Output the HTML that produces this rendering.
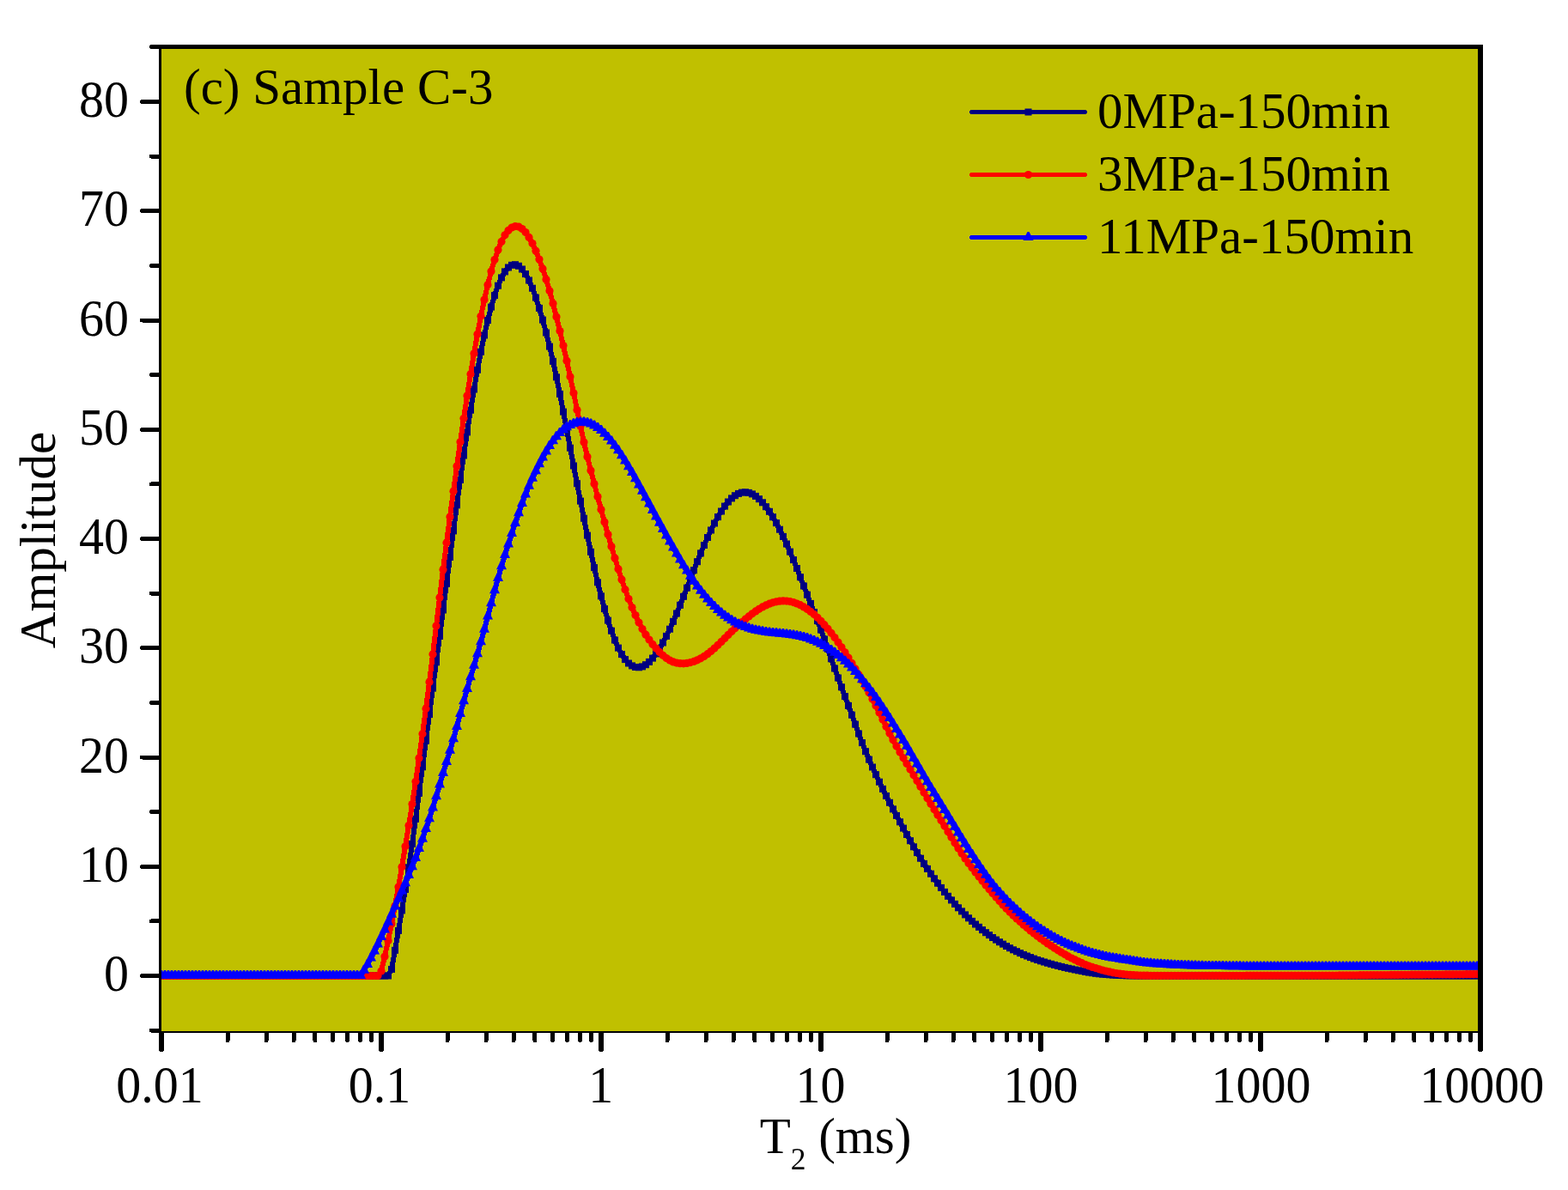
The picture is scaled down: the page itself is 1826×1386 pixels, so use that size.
<!DOCTYPE html>
<html><head><meta charset="utf-8"><title>T2 spectrum</title>
<style>
html,body{margin:0;padding:0;background:#fff;width:1826px;height:1386px;overflow:hidden}
svg{display:block}
text{font-family:"Liberation Serif","Times New Roman",serif;fill:#000}
</style></head><body>
<svg width="1826" height="1386" viewBox="0 0 1826 1386">
<defs>
<marker id="sq" markerUnits="userSpaceOnUse" markerWidth="10" markerHeight="10" refX="4" refY="4" overflow="visible"><rect x="0" y="0" width="8" height="8" fill="#000080"/></marker>
<marker id="ci" markerUnits="userSpaceOnUse" markerWidth="10" markerHeight="10" refX="4.5" refY="4.5" overflow="visible"><circle cx="4.5" cy="4.5" r="4.6" fill="#FF0000"/></marker>
<marker id="tr" markerUnits="userSpaceOnUse" markerWidth="12" markerHeight="12" refX="6" refY="6.5" overflow="visible"><path d="M5 0 H7 L12 10 H0 Z" fill="#0000FF"/></marker>
<clipPath id="pc"><rect x="188" y="57" width="1533" height="1144"/></clipPath>
</defs>

<g stroke="#000" stroke-linecap="round" shape-rendering="crispEdges">
<line x1="176.5" y1="1200.1" x2="187" y2="1200.1" stroke-width="5"/>
<line x1="165.5" y1="1136.5" x2="187" y2="1136.5" stroke-width="5"/>
<line x1="176.5" y1="1072.9" x2="187" y2="1072.9" stroke-width="5"/>
<line x1="165.5" y1="1009.2" x2="187" y2="1009.2" stroke-width="5"/>
<line x1="176.5" y1="945.6" x2="187" y2="945.6" stroke-width="5"/>
<line x1="165.5" y1="882.0" x2="187" y2="882.0" stroke-width="5"/>
<line x1="176.5" y1="818.4" x2="187" y2="818.4" stroke-width="5"/>
<line x1="165.5" y1="754.8" x2="187" y2="754.8" stroke-width="5"/>
<line x1="176.5" y1="691.1" x2="187" y2="691.1" stroke-width="5"/>
<line x1="165.5" y1="627.5" x2="187" y2="627.5" stroke-width="5"/>
<line x1="176.5" y1="563.9" x2="187" y2="563.9" stroke-width="5"/>
<line x1="165.5" y1="500.2" x2="187" y2="500.2" stroke-width="5"/>
<line x1="176.5" y1="436.6" x2="187" y2="436.6" stroke-width="5"/>
<line x1="165.5" y1="373.0" x2="187" y2="373.0" stroke-width="5"/>
<line x1="176.5" y1="309.4" x2="187" y2="309.4" stroke-width="5"/>
<line x1="165.5" y1="245.8" x2="187" y2="245.8" stroke-width="5"/>
<line x1="176.5" y1="182.1" x2="187" y2="182.1" stroke-width="5"/>
<line x1="165.5" y1="118.5" x2="187" y2="118.5" stroke-width="5"/>
<line x1="176.5" y1="54.5" x2="187" y2="54.5" stroke-width="5"/>
<line x1="188.0" y1="1200" x2="188.0" y2="1222" stroke-width="6"/>
<line x1="265.1" y1="1200" x2="265.1" y2="1211.5" stroke-width="5"/>
<line x1="310.1" y1="1200" x2="310.1" y2="1211.5" stroke-width="5"/>
<line x1="342.1" y1="1200" x2="342.1" y2="1211.5" stroke-width="5"/>
<line x1="366.9" y1="1200" x2="366.9" y2="1211.5" stroke-width="5"/>
<line x1="387.2" y1="1200" x2="387.2" y2="1211.5" stroke-width="5"/>
<line x1="404.3" y1="1200" x2="404.3" y2="1211.5" stroke-width="5"/>
<line x1="419.2" y1="1200" x2="419.2" y2="1211.5" stroke-width="5"/>
<line x1="432.3" y1="1200" x2="432.3" y2="1211.5" stroke-width="5"/>
<line x1="444.0" y1="1200" x2="444.0" y2="1222" stroke-width="6"/>
<line x1="521.1" y1="1200" x2="521.1" y2="1211.5" stroke-width="5"/>
<line x1="566.1" y1="1200" x2="566.1" y2="1211.5" stroke-width="5"/>
<line x1="598.1" y1="1200" x2="598.1" y2="1211.5" stroke-width="5"/>
<line x1="622.9" y1="1200" x2="622.9" y2="1211.5" stroke-width="5"/>
<line x1="643.2" y1="1200" x2="643.2" y2="1211.5" stroke-width="5"/>
<line x1="660.3" y1="1200" x2="660.3" y2="1211.5" stroke-width="5"/>
<line x1="675.2" y1="1200" x2="675.2" y2="1211.5" stroke-width="5"/>
<line x1="688.3" y1="1200" x2="688.3" y2="1211.5" stroke-width="5"/>
<line x1="700.0" y1="1200" x2="700.0" y2="1222" stroke-width="6"/>
<line x1="777.1" y1="1200" x2="777.1" y2="1211.5" stroke-width="5"/>
<line x1="822.1" y1="1200" x2="822.1" y2="1211.5" stroke-width="5"/>
<line x1="854.1" y1="1200" x2="854.1" y2="1211.5" stroke-width="5"/>
<line x1="878.9" y1="1200" x2="878.9" y2="1211.5" stroke-width="5"/>
<line x1="899.2" y1="1200" x2="899.2" y2="1211.5" stroke-width="5"/>
<line x1="916.3" y1="1200" x2="916.3" y2="1211.5" stroke-width="5"/>
<line x1="931.2" y1="1200" x2="931.2" y2="1211.5" stroke-width="5"/>
<line x1="944.3" y1="1200" x2="944.3" y2="1211.5" stroke-width="5"/>
<line x1="956.0" y1="1200" x2="956.0" y2="1222" stroke-width="6"/>
<line x1="1033.1" y1="1200" x2="1033.1" y2="1211.5" stroke-width="5"/>
<line x1="1078.1" y1="1200" x2="1078.1" y2="1211.5" stroke-width="5"/>
<line x1="1110.1" y1="1200" x2="1110.1" y2="1211.5" stroke-width="5"/>
<line x1="1134.9" y1="1200" x2="1134.9" y2="1211.5" stroke-width="5"/>
<line x1="1155.2" y1="1200" x2="1155.2" y2="1211.5" stroke-width="5"/>
<line x1="1172.3" y1="1200" x2="1172.3" y2="1211.5" stroke-width="5"/>
<line x1="1187.2" y1="1200" x2="1187.2" y2="1211.5" stroke-width="5"/>
<line x1="1200.3" y1="1200" x2="1200.3" y2="1211.5" stroke-width="5"/>
<line x1="1212.0" y1="1200" x2="1212.0" y2="1222" stroke-width="6"/>
<line x1="1289.1" y1="1200" x2="1289.1" y2="1211.5" stroke-width="5"/>
<line x1="1334.1" y1="1200" x2="1334.1" y2="1211.5" stroke-width="5"/>
<line x1="1366.1" y1="1200" x2="1366.1" y2="1211.5" stroke-width="5"/>
<line x1="1390.9" y1="1200" x2="1390.9" y2="1211.5" stroke-width="5"/>
<line x1="1411.2" y1="1200" x2="1411.2" y2="1211.5" stroke-width="5"/>
<line x1="1428.3" y1="1200" x2="1428.3" y2="1211.5" stroke-width="5"/>
<line x1="1443.2" y1="1200" x2="1443.2" y2="1211.5" stroke-width="5"/>
<line x1="1456.3" y1="1200" x2="1456.3" y2="1211.5" stroke-width="5"/>
<line x1="1468.0" y1="1200" x2="1468.0" y2="1222" stroke-width="6"/>
<line x1="1545.1" y1="1200" x2="1545.1" y2="1211.5" stroke-width="5"/>
<line x1="1590.1" y1="1200" x2="1590.1" y2="1211.5" stroke-width="5"/>
<line x1="1622.1" y1="1200" x2="1622.1" y2="1211.5" stroke-width="5"/>
<line x1="1646.9" y1="1200" x2="1646.9" y2="1211.5" stroke-width="5"/>
<line x1="1667.2" y1="1200" x2="1667.2" y2="1211.5" stroke-width="5"/>
<line x1="1684.3" y1="1200" x2="1684.3" y2="1211.5" stroke-width="5"/>
<line x1="1699.2" y1="1200" x2="1699.2" y2="1211.5" stroke-width="5"/>
<line x1="1712.3" y1="1200" x2="1712.3" y2="1211.5" stroke-width="5"/>
<line x1="1724.0" y1="1200" x2="1724.0" y2="1222" stroke-width="6"/>
</g>
<rect x="188" y="57" width="1533" height="1144" fill="#C0C000"/>
<g clip-path="url(#pc)" fill="none" stroke-width="6" stroke-linejoin="round" shape-rendering="crispEdges">
<polyline stroke="#000080" marker-start="url(#sq)" marker-mid="url(#sq)" marker-end="url(#sq)" points="188,1136.5 192,1136.5 196,1136.5 200,1136.5 204,1136.5 208,1136.5 212,1136.5 216,1136.5 220,1136.5 224,1136.5 228,1136.5 232,1136.5 236,1136.5 240,1136.5 244,1136.5 248,1136.5 252,1136.5 256,1136.5 260,1136.5 264,1136.5 268,1136.5 272,1136.5 276,1136.5 280,1136.5 284,1136.5 288,1136.5 292,1136.5 296,1136.5 300,1136.5 304,1136.5 308,1136.5 312,1136.5 316,1136.5 320,1136.5 324,1136.5 328,1136.5 332,1136.5 336,1136.5 340,1136.5 344,1136.5 348,1136.5 352,1136.5 356,1136.5 360,1136.5 364,1136.5 368,1136.5 372,1136.5 376,1136.5 380,1136.5 384,1136.5 388,1136.5 392,1136.5 396,1136.5 400,1136.5 404,1136.5 408,1136.5 412,1136.5 416,1136.5 420,1136.5 424,1136.5 428,1136.5 432,1136.5 436,1136.5 440,1136.5 444,1136.5 448,1136.5 452,1136.5 456,1128.9 460,1106.8 464,1083.9 468,1060.4 472,1035.9 476,1010.3 480,982.9 484,953.9 488,923.8 492,893.3 496,862.7 500,832.1 504,801.6 508,771.3 512,741.0 516,710.5 520,679.8 524,649.0 528,618.4 532,588.3 536,558.9 540,530.5 544,503.4 548,477.7 552,453.5 556,430.8 560,409.8 564,390.5 568,373.1 572,357.6 576,344.1 580,332.7 584,323.4 588,316.4 592,311.5 596,308.8 600,308.2 604,309.8 608,313.5 612,319.1 616,326.5 620,335.7 624,346.6 628,358.9 632,372.6 636,387.5 640,403.6 644,420.8 648,439.3 652,458.9 656,479.6 660,500.6 664,521.7 668,542.5 672,563.2 676,583.6 680,603.7 684,623.6 688,642.8 692,661.1 696,678.3 700,694.3 704,709.1 708,722.6 712,734.7 716,745.5 720,754.6 724,762.1 728,768.1 732,772.5 736,775.4 740,777.0 744,777.3 748,776.4 752,774.2 756,770.9 760,766.6 764,761.4 768,755.3 772,748.5 776,740.9 780,732.7 784,723.8 788,714.5 792,704.8 796,694.8 800,684.7 804,674.4 808,664.2 812,654.2 816,644.4 820,635.0 824,626.0 828,617.5 832,609.5 836,602.1 840,595.5 844,589.6 848,584.5 852,580.4 856,577.2 860,574.9 864,573.6 868,573.3 872,573.9 876,575.4 880,577.9 884,581.2 888,585.3 892,590.2 896,595.8 900,602.2 904,609.1 908,616.7 912,624.9 916,633.5 920,642.6 924,652.1 928,662.0 932,672.2 936,682.5 940,692.7 944,702.9 948,713.0 952,723.1 956,733.6 960,744.5 964,755.8 968,767.3 972,778.5 976,789.5 980,800.3 984,811.1 988,821.9 992,832.7 996,843.6 1000,854.5 1004,865.1 1008,875.2 1012,884.6 1016,893.5 1020,902.2 1024,910.7 1028,918.9 1032,927.0 1036,934.8 1040,942.4 1044,949.9 1048,957.3 1052,964.6 1056,972.0 1060,979.2 1064,986.3 1068,993.1 1072,999.7 1076,1005.9 1080,1011.9 1084,1017.7 1088,1023.3 1092,1028.7 1096,1033.9 1100,1038.9 1104,1043.8 1108,1048.4 1112,1052.9 1116,1057.3 1120,1061.4 1124,1065.4 1128,1069.3 1132,1072.9 1136,1076.5 1140,1079.8 1144,1083.1 1148,1086.2 1152,1089.1 1156,1092.0 1160,1094.6 1164,1097.2 1168,1099.6 1172,1102.0 1176,1104.2 1180,1106.3 1184,1108.2 1188,1110.1 1192,1111.9 1196,1113.5 1200,1115.1 1204,1116.6 1208,1118.0 1212,1119.3 1216,1120.5 1220,1121.7 1224,1122.8 1228,1123.9 1232,1124.9 1236,1125.9 1240,1126.9 1244,1127.8 1248,1128.6 1252,1129.5 1256,1130.3 1260,1131.1 1264,1131.9 1268,1132.6 1272,1133.2 1276,1133.8 1280,1134.3 1284,1134.7 1288,1135.0 1292,1135.3 1296,1135.6 1300,1135.8 1304,1136.0 1308,1136.1 1312,1136.3 1316,1136.3 1320,1136.4 1324,1136.4 1328,1136.5 1332,1136.5 1336,1136.5 1340,1136.5 1344,1136.5 1348,1136.5 1352,1136.5 1356,1136.5 1360,1136.5 1364,1136.5 1368,1136.5 1372,1136.5 1376,1136.5 1380,1136.5 1384,1136.5 1388,1136.5 1392,1136.5 1396,1136.5 1400,1136.5 1404,1136.5 1408,1136.5 1412,1136.5 1416,1136.5 1420,1136.5 1424,1136.5 1428,1136.5 1432,1136.5 1436,1136.5 1440,1136.5 1444,1136.5 1448,1136.5 1452,1136.5 1456,1136.5 1460,1136.5 1464,1136.5 1468,1136.5 1472,1136.5 1476,1136.5 1480,1136.5 1484,1136.5 1488,1136.5 1492,1136.5 1496,1136.5 1500,1136.5 1504,1136.5 1508,1136.5 1512,1136.5 1516,1136.5 1520,1136.5 1524,1136.5 1528,1136.5 1532,1136.5 1536,1136.5 1540,1136.5 1544,1136.5 1548,1136.5 1552,1136.5 1556,1136.5 1560,1136.5 1564,1136.5 1568,1136.5 1572,1136.5 1576,1136.5 1580,1136.5 1584,1136.5 1588,1136.5 1592,1136.5 1596,1136.5 1600,1136.5 1604,1136.5 1608,1136.5 1612,1136.5 1616,1136.5 1620,1136.5 1624,1136.5 1628,1136.5 1632,1136.5 1636,1136.5 1640,1136.5 1644,1136.5 1648,1136.5 1652,1136.5 1656,1136.5 1660,1136.5 1664,1136.5 1668,1136.5 1672,1136.5 1676,1136.5 1680,1136.5 1684,1136.5 1688,1136.5 1692,1136.5 1696,1136.5 1700,1136.5 1704,1136.5 1708,1136.5 1712,1136.5 1716,1136.5 1720,1136.5 1724,1136.5"/>
<polyline stroke="#FF0000" marker-start="url(#ci)" marker-mid="url(#ci)" marker-end="url(#ci)" points="188,1136.5 192,1136.5 196,1136.5 200,1136.5 204,1136.5 208,1136.5 212,1136.5 216,1136.5 220,1136.5 224,1136.5 228,1136.5 232,1136.5 236,1136.5 240,1136.5 244,1136.5 248,1136.5 252,1136.5 256,1136.5 260,1136.5 264,1136.5 268,1136.5 272,1136.5 276,1136.5 280,1136.5 284,1136.5 288,1136.5 292,1136.5 296,1136.5 300,1136.5 304,1136.5 308,1136.5 312,1136.5 316,1136.5 320,1136.5 324,1136.5 328,1136.5 332,1136.5 336,1136.5 340,1136.5 344,1136.5 348,1136.5 352,1136.5 356,1136.5 360,1136.5 364,1136.5 368,1136.5 372,1136.5 376,1136.5 380,1136.5 384,1136.5 388,1136.5 392,1136.5 396,1136.5 400,1136.5 404,1136.5 408,1136.5 412,1136.5 416,1136.5 420,1136.5 424,1136.5 428,1136.5 432,1136.5 436,1136.5 440,1136.5 444,1131.0 448,1114.1 452,1095.7 456,1075.9 460,1054.9 464,1032.9 468,1009.7 472,985.8 476,961.4 480,936.5 484,910.3 488,882.9 492,854.7 496,825.4 500,794.5 504,762.1 508,729.1 512,695.9 516,663.5 520,632.2 524,601.9 528,572.2 532,543.1 536,514.8 540,487.3 544,460.9 548,435.7 552,411.7 556,389.2 560,368.3 564,349.1 568,331.7 572,316.1 576,302.5 580,290.9 584,281.4 588,273.8 592,268.4 596,265.0 600,263.6 604,264.1 608,266.5 612,270.6 616,276.4 620,283.6 624,292.2 628,302.1 632,313.1 636,325.4 640,338.8 644,353.4 648,369.0 652,385.5 656,402.5 660,420.2 664,438.7 668,457.8 672,477.4 676,496.6 680,514.9 684,531.9 688,548.0 692,563.4 696,578.5 700,593.4 704,608.0 708,622.5 712,636.5 716,650.0 720,662.8 724,675.1 728,686.7 732,697.5 736,707.5 740,716.6 744,725.0 748,732.5 752,739.2 756,745.1 760,750.4 764,755.1 768,759.4 772,763.3 776,766.6 780,769.1 784,770.9 788,772.1 792,772.7 796,772.8 800,772.4 804,771.6 808,770.4 812,768.8 816,766.8 820,764.4 824,761.7 828,758.5 832,755.1 836,751.3 840,747.4 844,743.4 848,739.4 852,735.6 856,731.8 860,728.2 864,724.6 868,721.2 872,717.9 876,714.8 880,711.9 884,709.3 888,706.9 892,704.9 896,703.2 900,701.8 904,700.8 908,700.2 912,699.9 916,700.1 920,700.6 924,701.6 928,703.0 932,704.7 936,706.9 940,709.4 944,712.4 948,715.6 952,719.3 956,723.3 960,727.7 964,732.3 968,737.3 972,742.5 976,748.0 980,753.8 984,759.8 988,766.0 992,772.4 996,778.9 1000,785.7 1004,792.5 1008,799.6 1012,806.8 1016,814.3 1020,822.1 1024,830.0 1028,838.1 1032,846.2 1036,854.1 1040,861.8 1044,869.1 1048,876.1 1052,882.8 1056,889.5 1060,896.1 1064,902.8 1068,909.5 1072,916.3 1076,923.1 1080,929.7 1084,936.3 1088,942.8 1092,949.2 1096,955.6 1100,962.1 1104,968.7 1108,975.2 1112,981.7 1116,988.0 1120,994.1 1124,999.9 1128,1005.4 1132,1010.8 1136,1016.0 1140,1021.1 1144,1026.1 1148,1031.0 1152,1035.8 1156,1040.5 1160,1045.1 1164,1049.6 1168,1053.9 1172,1058.2 1176,1062.2 1180,1066.2 1184,1070.0 1188,1073.6 1192,1077.2 1196,1080.6 1200,1083.9 1204,1087.1 1208,1090.2 1212,1093.2 1216,1096.1 1220,1098.9 1224,1101.6 1228,1104.2 1232,1106.8 1236,1109.2 1240,1111.6 1244,1113.9 1248,1116.0 1252,1117.9 1256,1119.9 1260,1121.7 1264,1123.5 1268,1125.0 1272,1126.4 1276,1127.6 1280,1128.8 1284,1130.0 1288,1131.0 1292,1131.9 1296,1132.8 1300,1133.5 1304,1134.1 1308,1134.6 1312,1135.1 1316,1135.4 1320,1135.7 1324,1135.9 1328,1136.1 1332,1136.2 1336,1136.2 1340,1136.3 1344,1136.3 1348,1136.3 1352,1136.3 1356,1136.3 1360,1136.3 1364,1136.3 1368,1136.3 1372,1136.3 1376,1136.3 1380,1136.3 1384,1136.3 1388,1136.3 1392,1136.3 1396,1136.3 1400,1136.3 1404,1136.3 1408,1136.3 1412,1136.3 1416,1136.3 1420,1136.3 1424,1136.3 1428,1136.3 1432,1136.3 1436,1136.3 1440,1136.3 1444,1136.3 1448,1136.3 1452,1136.2 1456,1136.2 1460,1136.2 1464,1136.2 1468,1136.2 1472,1136.2 1476,1136.2 1480,1136.2 1484,1136.2 1488,1136.2 1492,1136.2 1496,1136.2 1500,1136.2 1504,1136.2 1508,1136.2 1512,1136.2 1516,1136.1 1520,1136.1 1524,1136.1 1528,1136.1 1532,1136.1 1536,1136.1 1540,1136.0 1544,1136.0 1548,1136.0 1552,1136.0 1556,1136.0 1560,1135.9 1564,1135.9 1568,1135.9 1572,1135.8 1576,1135.8 1580,1135.8 1584,1135.7 1588,1135.7 1592,1135.7 1596,1135.6 1600,1135.6 1604,1135.6 1608,1135.5 1612,1135.5 1616,1135.5 1620,1135.4 1624,1135.4 1628,1135.4 1632,1135.3 1636,1135.3 1640,1135.3 1644,1135.2 1648,1135.2 1652,1135.2 1656,1135.2 1660,1135.1 1664,1135.1 1668,1135.1 1672,1135.0 1676,1135.0 1680,1135.0 1684,1134.9 1688,1134.9 1692,1134.9 1696,1134.8 1700,1134.8 1704,1134.8 1708,1134.7 1712,1134.7 1716,1134.7 1720,1134.6 1724,1134.6"/>
<polyline stroke="#0000FF" marker-start="url(#tr)" marker-mid="url(#tr)" marker-end="url(#tr)" points="188,1136.5 192,1136.5 196,1136.5 200,1136.5 204,1136.5 208,1136.5 212,1136.5 216,1136.5 220,1136.5 224,1136.5 228,1136.5 232,1136.5 236,1136.5 240,1136.5 244,1136.5 248,1136.5 252,1136.5 256,1136.5 260,1136.5 264,1136.5 268,1136.5 272,1136.5 276,1136.5 280,1136.5 284,1136.5 288,1136.5 292,1136.5 296,1136.5 300,1136.5 304,1136.5 308,1136.5 312,1136.5 316,1136.5 320,1136.5 324,1136.5 328,1136.5 332,1136.5 336,1136.5 340,1136.5 344,1136.5 348,1136.5 352,1136.5 356,1136.5 360,1136.5 364,1136.5 368,1136.5 372,1136.5 376,1136.5 380,1136.5 384,1136.5 388,1136.5 392,1136.5 396,1136.5 400,1136.5 404,1136.5 408,1136.5 412,1136.5 416,1136.5 420,1136.5 424,1130.2 428,1123.4 432,1115.9 436,1108.0 440,1099.9 444,1091.6 448,1083.1 452,1074.2 456,1065.2 460,1056.1 464,1047.0 468,1038.0 472,1028.8 476,1019.5 480,1009.7 484,999.4 488,988.5 492,977.2 496,965.6 500,953.7 504,941.1 508,927.7 512,914.0 516,900.6 520,887.5 524,874.3 528,860.7 532,846.4 536,831.6 540,816.8 544,802.5 548,788.7 552,775.2 556,761.7 560,747.7 564,733.2 568,718.1 572,702.8 576,687.8 580,673.4 584,659.7 588,646.6 592,633.9 596,621.6 600,609.5 604,597.8 608,586.6 612,576.0 616,566.3 620,557.2 624,548.7 628,540.7 632,533.1 636,526.0 640,519.5 644,513.7 648,508.7 652,504.4 656,500.8 660,497.8 664,495.4 668,493.7 672,492.5 676,491.9 680,492.0 684,492.7 688,494.0 692,495.9 696,498.4 700,501.6 704,505.2 708,509.4 712,514.1 716,519.3 720,524.8 724,530.8 728,537.1 732,543.7 736,550.6 740,557.7 744,564.9 748,572.3 752,579.7 756,587.1 760,594.5 764,601.9 768,609.3 772,616.6 776,623.9 780,631.0 784,638.1 788,645.1 792,652.0 796,658.7 800,665.1 804,671.3 808,677.2 812,682.9 816,688.2 820,693.3 824,698.0 828,702.5 832,706.6 836,710.5 840,714.0 844,717.2 848,720.1 852,722.8 856,725.1 860,727.2 864,729.0 868,730.6 872,732.0 876,733.2 880,734.2 884,735.1 888,735.8 892,736.4 896,736.9 900,737.4 904,737.8 908,738.2 912,738.6 916,739.0 920,739.5 924,740.0 928,740.7 932,741.5 936,742.5 940,743.6 944,745.0 948,746.5 952,748.3 956,750.3 960,752.5 964,754.9 968,757.5 972,760.3 976,763.4 980,766.7 984,770.2 988,774.0 992,778.1 996,782.4 1000,787.0 1004,791.7 1008,796.7 1012,801.8 1016,807.1 1020,812.6 1024,818.3 1028,824.2 1032,830.3 1036,836.6 1040,843.0 1044,849.4 1048,856.0 1052,862.6 1056,869.3 1060,876.2 1064,883.2 1068,890.1 1072,897.1 1076,903.9 1080,910.7 1084,917.4 1088,924.1 1092,930.6 1096,937.1 1100,943.5 1104,950.1 1108,956.7 1112,963.3 1116,970.0 1120,976.6 1124,983.1 1128,989.4 1132,995.6 1136,1001.8 1140,1007.8 1144,1013.6 1148,1019.3 1152,1024.7 1156,1029.9 1160,1034.9 1164,1039.5 1168,1044.0 1172,1048.3 1176,1052.4 1180,1056.3 1184,1060.1 1188,1063.8 1192,1067.2 1196,1070.6 1200,1073.8 1204,1076.8 1208,1079.7 1212,1082.5 1216,1085.1 1220,1087.6 1224,1090.0 1228,1092.3 1232,1094.5 1236,1096.5 1240,1098.4 1244,1100.3 1248,1102.0 1252,1103.6 1256,1105.1 1260,1106.6 1264,1107.9 1268,1109.2 1272,1110.4 1276,1111.6 1280,1112.6 1284,1113.6 1288,1114.5 1292,1115.3 1296,1116.0 1300,1116.6 1304,1117.2 1308,1117.9 1312,1118.5 1316,1119.1 1320,1119.7 1324,1120.3 1328,1120.9 1332,1121.4 1336,1121.9 1340,1122.3 1344,1122.7 1348,1123.0 1352,1123.3 1356,1123.6 1360,1123.8 1364,1124.0 1368,1124.2 1372,1124.4 1376,1124.5 1380,1124.7 1384,1124.8 1388,1125.0 1392,1125.1 1396,1125.2 1400,1125.3 1404,1125.4 1408,1125.4 1412,1125.5 1416,1125.6 1420,1125.6 1424,1125.6 1428,1125.7 1432,1125.7 1436,1125.8 1440,1125.8 1444,1125.8 1448,1125.9 1452,1125.9 1456,1125.9 1460,1125.9 1464,1126.0 1468,1126.0 1472,1126.0 1476,1126.0 1480,1126.0 1484,1126.0 1488,1126.0 1492,1126.0 1496,1126.0 1500,1126.0 1504,1126.0 1508,1126.0 1512,1126.0 1516,1126.0 1520,1126.0 1524,1126.0 1528,1126.0 1532,1126.0 1536,1126.0 1540,1126.0 1544,1126.0 1548,1126.0 1552,1126.0 1556,1126.0 1560,1126.0 1564,1126.0 1568,1126.0 1572,1126.0 1576,1126.0 1580,1126.0 1584,1126.0 1588,1126.0 1592,1126.0 1596,1126.0 1600,1126.0 1604,1126.0 1608,1126.0 1612,1126.0 1616,1126.0 1620,1126.0 1624,1126.0 1628,1126.0 1632,1126.0 1636,1126.0 1640,1126.0 1644,1126.0 1648,1126.0 1652,1126.0 1656,1126.0 1660,1126.0 1664,1126.0 1668,1126.0 1672,1126.0 1676,1126.0 1680,1126.0 1684,1126.0 1688,1126.0 1692,1126.0 1696,1126.0 1700,1126.0 1704,1126.0 1708,1126.0 1712,1126.0 1716,1126.0 1720,1126.0 1724,1126.0"/>
</g>
<g fill="#000" shape-rendering="crispEdges">
<rect x="185" y="52" width="1542" height="5"/>
<rect x="185" y="52" width="3" height="1151"/>
<rect x="1721" y="52" width="6" height="1151"/>
<rect x="185" y="1201" width="1542" height="2"/>
</g>
<text transform="translate(150 1154.0) scale(1 1.05)" font-size="58" text-anchor="end">0</text>
<text transform="translate(150 1026.8) scale(1 1.05)" font-size="58" text-anchor="end">10</text>
<text transform="translate(150 899.5) scale(1 1.05)" font-size="58" text-anchor="end">20</text>
<text transform="translate(150 772.2) scale(1 1.05)" font-size="58" text-anchor="end">30</text>
<text transform="translate(150 645.0) scale(1 1.05)" font-size="58" text-anchor="end">40</text>
<text transform="translate(150 517.8) scale(1 1.05)" font-size="58" text-anchor="end">50</text>
<text transform="translate(150 390.5) scale(1 1.05)" font-size="58" text-anchor="end">60</text>
<text transform="translate(150 263.2) scale(1 1.05)" font-size="58" text-anchor="end">70</text>
<text transform="translate(150 136.0) scale(1 1.05)" font-size="58" text-anchor="end">80</text>
<text transform="translate(186.0 1284) scale(1 1.05)" font-size="58" text-anchor="middle">0.01</text>
<text transform="translate(441.9 1284) scale(1 1.05)" font-size="58" text-anchor="middle">0.1</text>
<text transform="translate(699.7 1284) scale(1 1.05)" font-size="58" text-anchor="middle">1</text>
<text transform="translate(955.6 1284) scale(1 1.05)" font-size="58" text-anchor="middle">10</text>
<text transform="translate(1212.0 1284) scale(1 1.05)" font-size="58" text-anchor="middle">100</text>
<text transform="translate(1468.5 1284) scale(1 1.05)" font-size="58" text-anchor="middle">1000</text>
<text transform="translate(1725.7 1284) scale(1 1.05)" font-size="58" text-anchor="middle">10000</text>
<text x="973" y="1343" font-size="59" text-anchor="middle">T<tspan font-size="35.5" dy="19">2</tspan><tspan dy="-19"> (ms)</tspan></text>
<text transform="translate(63.5,629) rotate(-90)" font-size="59" text-anchor="middle">Amplitude</text>
<text x="214" y="121" font-size="59">(c) Sample C-3</text>
<polyline fill="none" stroke="#000080" stroke-width="5" stroke-linecap="round" shape-rendering="crispEdges" marker-mid="url(#sq)" points="1131.5,130.5 1197.5,130.5 1263.5,130.5"/>
<text x="1278" y="149.0" font-size="59">0MPa-150min</text>
<polyline fill="none" stroke="#FF0000" stroke-width="5" stroke-linecap="round" shape-rendering="crispEdges" marker-mid="url(#ci)" points="1131.5,203.5 1197.5,203.5 1263.5,203.5"/>
<text x="1278" y="222.0" font-size="59">3MPa-150min</text>
<polyline fill="none" stroke="#0000FF" stroke-width="5" stroke-linecap="round" shape-rendering="crispEdges" marker-mid="url(#tr)" points="1131.5,276.5 1197.5,276.5 1263.5,276.5"/>
<text x="1278" y="295.0" font-size="59">11MPa-150min</text>
</svg></body></html>
